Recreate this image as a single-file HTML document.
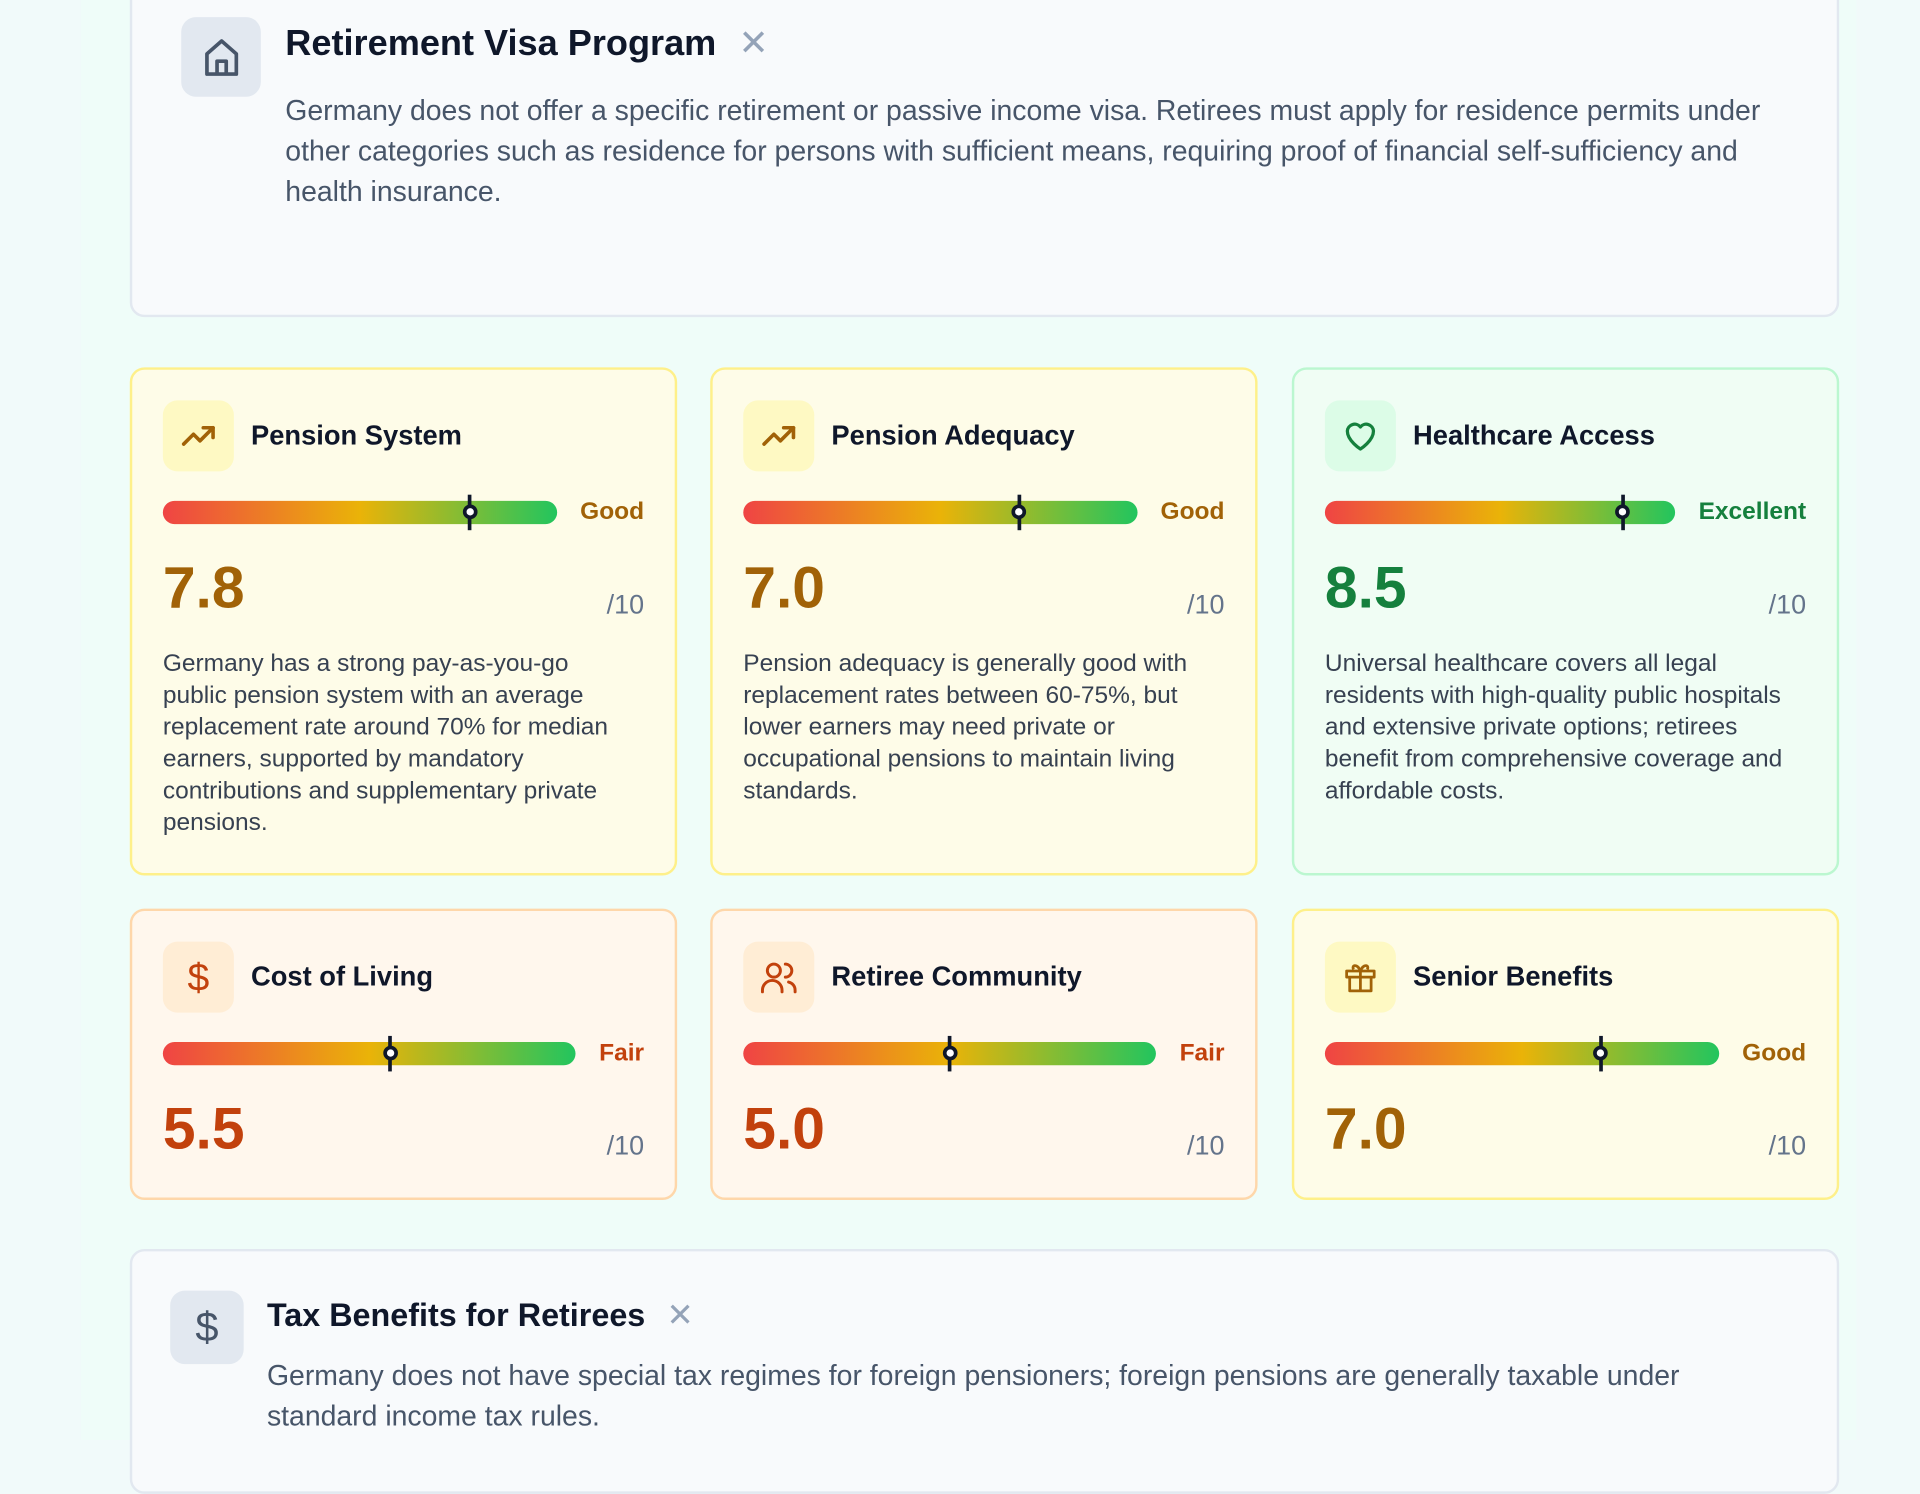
<!DOCTYPE html>
<html><head><meta charset="utf-8">
<style>
*{box-sizing:border-box;margin:0;padding:0}
html,body{width:1920px;height:1440px;overflow:hidden;background:#f1fafa;font-family:"Liberation Sans",sans-serif}
#wrap{position:absolute;left:0;top:0;width:1568px;height:1176px;transform:scale(1.22449);transform-origin:0 0}
.main{position:absolute;left:66px;top:0;width:1450px;height:1176px;background:#effdf9}
.card{position:absolute;border:2px solid;border-radius:12px}
.wide{background:#f8fafc;border-color:#e2e8f0}
.ibox{position:absolute;border-radius:12px;display:flex;align-items:center;justify-content:center}
.ttl{position:absolute;white-space:nowrap;color:#0f172a}
.para{position:absolute;white-space:nowrap;color:#475569;font-size:23.2px;line-height:33px}
.yel{background:#fefce8;border-color:#fef08a}
.grn{background:#f0fdf4;border-color:#bbf7d0}
.org{background:#fff7ed;border-color:#fed7aa}
.sc .ibox{left:25px;top:25px;width:58px;height:58px}
.sc .ttl{left:97px;top:40px;font-size:22.3px;line-height:28px;font-weight:600}
.row{position:absolute;left:25px;right:25px;top:107px;height:19px;display:flex;align-items:center;gap:19px}
.bar{position:relative;flex:1;height:19px;border-radius:10px;background:linear-gradient(90deg,#ef4444,#eab308 50%,#22c55e)}
.lbl{font-size:20px;font-weight:700;white-space:nowrap}
.mk{position:absolute;top:-5px;width:3px;height:29px;background:#0f172a;margin-left:-1.5px}
.mk::after{content:"";position:absolute;left:-4.5px;top:8px;width:12px;height:12px;border-radius:50%;background:#fff;border:3px solid #0f172a;box-sizing:border-box}
.score{position:absolute;left:25px;top:155px;font-size:48px;line-height:1;font-weight:700}
.of{position:absolute;right:25px;top:181px;font-size:22px;line-height:1;color:#64748b}
.desc{position:absolute;left:25px;top:227px;font-size:20px;line-height:26px;color:#374151;white-space:nowrap}
.cy{color:#a16207}.cg{color:#15803d}.co{color:#c2410c}
</style></head><body>
<div id="wrap">
<div class="main"></div>

<div class="card wide" style="left:106px;top:-12px;width:1396px;height:271px">
 <div class="ibox" style="left:40px;top:24px;width:65px;height:65px;background:#e2e8f0">
  <svg width="36" height="36" viewBox="0 0 24 24" fill="none" stroke="#475569" stroke-width="2" stroke-linejoin="round"><path d="M4 21V10l8-7 8 7v11z"/><path d="M9.5 21v-7h5v7"/></svg></div>
 <div class="ttl" style="left:125px;top:28px;font-size:29.5px;line-height:36px;font-weight:700">Retirement Visa Program <span style="color:#94a3b8;font-weight:400;margin-left:10px">✕</span></div>
 <div class="para" style="left:125px;top:84px">Germany does not offer a specific retirement or passive income visa. Retirees must apply for residence permits under<br>other categories such as residence for persons with sufficient means, requiring proof of financial self-sufficiency and<br>health insurance.</div>
</div>

<div class="card sc yel" style="left:106px;top:300px;width:447px;height:415px">
 <div class="ibox" style="background:#fef9c3"><svg width="32" height="32" viewBox="0 0 24 24" fill="none" stroke="#a16207" stroke-width="2.2" stroke-linecap="round" stroke-linejoin="round"><path d="M3 17l6-6 4 4 8-8"/><path d="M15 7h6v6"/></svg></div>
 <div class="ttl">Pension System</div>
 <div class="row"><div class="bar"><div class="mk"></div></div><div class="lbl cy">Good</div></div>
 <div class="score cy">7.8</div><div class="of">/10</div>
 <div class="desc">Germany has a strong pay-as-you-go<br>public pension system with an average<br>replacement rate around 70% for median<br>earners, supported by mandatory<br>contributions and supplementary private<br>pensions.</div>
</div>

<div class="card sc yel" style="left:580px;top:300px;width:447px;height:415px">
 <div class="ibox" style="background:#fef9c3"><svg width="32" height="32" viewBox="0 0 24 24" fill="none" stroke="#a16207" stroke-width="2.2" stroke-linecap="round" stroke-linejoin="round"><path d="M3 17l6-6 4 4 8-8"/><path d="M15 7h6v6"/></svg></div>
 <div class="ttl">Pension Adequacy</div>
 <div class="row"><div class="bar"><div class="mk"></div></div><div class="lbl cy">Good</div></div>
 <div class="score cy">7.0</div><div class="of">/10</div>
 <div class="desc">Pension adequacy is generally good with<br>replacement rates between 60-75%, but<br>lower earners may need private or<br>occupational pensions to maintain living<br>standards.</div>
</div>

<div class="card sc grn" style="left:1055px;top:300px;width:447px;height:415px">
 <div class="ibox" style="background:#dcfce7"><svg width="32" height="32" viewBox="0 0 24 24" fill="none" stroke="#15803d" stroke-width="2" stroke-linejoin="round"><path d="M12 20s-8-5-8-11a4.5 4.5 0 0 1 8-2.5A4.5 4.5 0 0 1 20 9c0 6-8 11-8 11z"/></svg></div>
 <div class="ttl">Healthcare Access</div>
 <div class="row"><div class="bar"><div class="mk"></div></div><div class="lbl cg">Excellent</div></div>
 <div class="score cg">8.5</div><div class="of">/10</div>
 <div class="desc">Universal healthcare covers all legal<br>residents with high-quality public hospitals<br>and extensive private options; retirees<br>benefit from comprehensive coverage and<br>affordable costs.</div>
</div>

<div class="card sc org" style="left:106px;top:742px;width:447px;height:238px">
 <div class="ibox" style="background:#ffedd5"><span style="font-size:32px;color:#c2410c">$</span></div>
 <div class="ttl">Cost of Living</div>
 <div class="row"><div class="bar"><div class="mk"></div></div><div class="lbl co">Fair</div></div>
 <div class="score co">5.5</div><div class="of">/10</div>
</div>

<div class="card sc org" style="left:580px;top:742px;width:447px;height:238px">
 <div class="ibox" style="background:#ffedd5"><svg width="32" height="32" viewBox="0 0 24 24" fill="none" stroke="#c2410c" stroke-width="1.8" stroke-linecap="round"><circle cx="9" cy="8" r="4"/><path d="M2 21v-1a6 6 0 0 1 12 0v1"/><path d="M16 4a4 4 0 0 1 0 8M18 15a5 5 0 0 1 4 5v1"/></svg></div>
 <div class="ttl">Retiree Community</div>
 <div class="row"><div class="bar"><div class="mk"></div></div><div class="lbl co">Fair</div></div>
 <div class="score co">5.0</div><div class="of">/10</div>
</div>

<div class="card sc yel" style="left:1055px;top:742px;width:447px;height:238px">
 <div class="ibox" style="background:#fef9c3"><svg width="30" height="30" viewBox="0 0 24 24" fill="none" stroke="#a16207" stroke-width="1.8" stroke-linejoin="round"><rect x="3" y="8" width="18" height="4"/><path d="M5 12v9h14v-9M12 8v13M12 8C10 3 6 4 7.5 7M12 8c2-5 6-4 4.5-1"/></svg></div>
 <div class="ttl">Senior Benefits</div>
 <div class="row"><div class="bar"><div class="mk"></div></div><div class="lbl cy">Good</div></div>
 <div class="score cy">7.0</div><div class="of">/10</div>
</div>

<div class="card wide" style="left:106px;top:1020px;width:1396px;height:200px">
 <div class="ibox" style="left:31px;top:32px;width:60px;height:60px;background:#e2e8f0"><span style="font-size:34px;color:#475569">$</span></div>
 <div class="ttl" style="left:110px;top:35px;font-size:26.4px;line-height:34px;font-weight:700">Tax Benefits for Retirees <span style="color:#94a3b8;font-weight:400;margin-left:10px">✕</span></div>
 <div class="para" style="left:110px;top:85px">Germany does not have special tax regimes for foreign pensioners; foreign pensions are generally taxable under<br>standard income tax rules.</div>
</div>
</div>
<script>
const categories = ["Pension System","Pension Adequacy","Healthcare Access","Cost of Living","Retiree Community","Senior Benefits"];
const scores = [7.8, 7.0, 8.5, 5.5, 5.0, 7.0];
const maxScore = 10;
const xScale = v => (v / maxScore * 100) + '%';
document.querySelectorAll('.sc').forEach((card, i) => {
  card.querySelector('.mk').style.left = xScale(scores[i]);
  card.querySelector('.score').textContent = scores[i].toFixed(1);
});
</script>
</body></html>
